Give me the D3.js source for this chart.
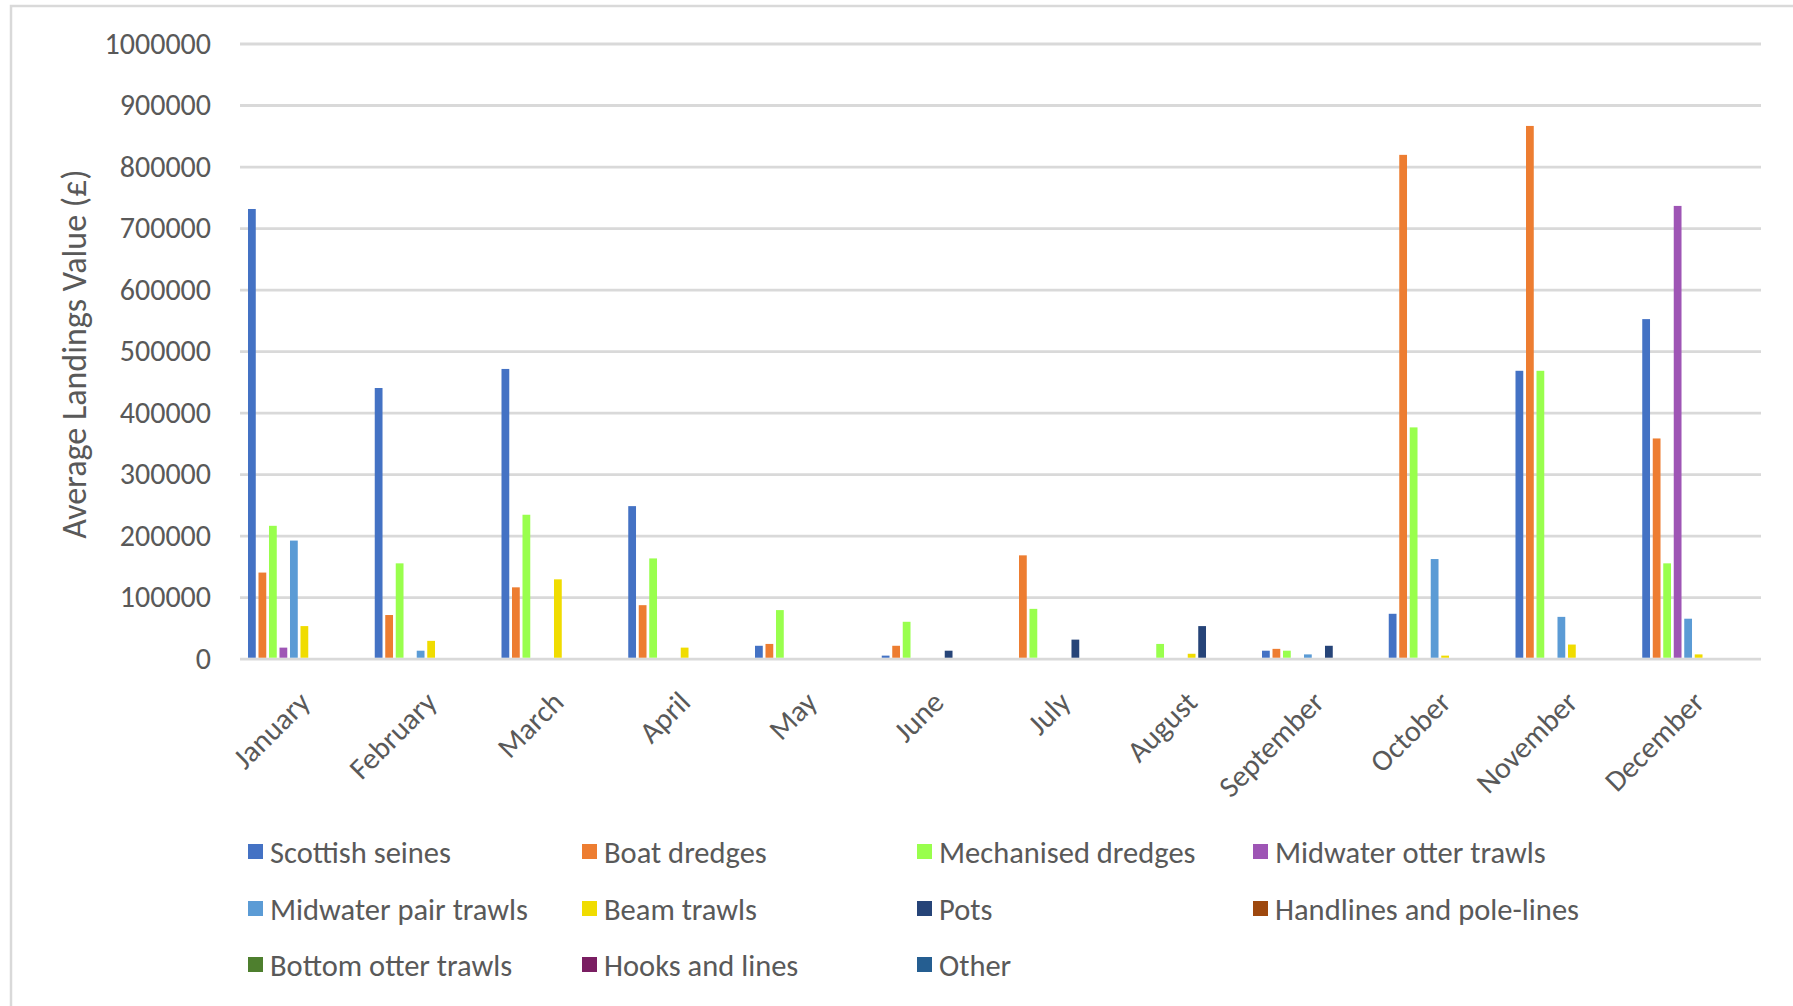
<!DOCTYPE html>
<html>
<head>
<meta charset="utf-8">
<script src="https://cdn.jsdelivr.net/npm/d3@7"></script>
<style>
  html, body { margin: 0; padding: 0; background: #fff; }
  svg { display: block; font-family: Carlito, Calibri, Lato, sans-serif; }
</style>
</head>
<body>
<svg id="chart"></svg>
<script>
  // Month categories and series
  const months = ["January", "February", "March", "April", "May", "June",
    "July", "August", "September", "October", "November", "December"];

  const seriesNames = ["Scottish seines", "Boat dredges", "Mechanised dredges",
    "Midwater otter trawls", "Midwater pair trawls", "Beam trawls", "Pots",
    "Handlines and pole-lines", "Bottom otter trawls", "Hooks and lines", "Other"];

  const seriesColors = ["#4472c4", "#ed7d31", "#99ff4d", "#9e55b5", "#5b9bd5",
    "#f0dc00", "#264478", "#9e480e", "#4e7f2e", "#7a1e62", "#255e91"];

  // Average landings value (£) per month, one array per gear type
  const scottishSeines     = [731000, 440000, 471000, 248000, 21000, 5000, 0, 0, 13000, 73000, 468000, 552000];
  const boatDredges        = [140000, 71000, 116000, 87000, 24000, 21000, 168000, 0, 16000, 819000, 866000, 358000];
  const mechanisedDredges  = [216000, 155000, 234000, 163000, 79000, 60000, 81000, 24000, 13000, 376000, 468000, 155000];
  const midwaterOtter      = [18000, 0, 0, 0, 0, 0, 0, 0, 0, 0, 0, 736000];
  const midwaterPair       = [192000, 13000, 0, 0, 0, 0, 0, 0, 7000, 162000, 68000, 65000];
  const beamTrawls         = [53000, 29000, 129000, 18000, 0, 0, 0, 8000, 0, 5000, 23000, 7000];
  const pots               = [0, 0, 0, 0, 0, 13000, 31000, 53000, 21000, 0, 0, 0];
  const handlines          = [0, 0, 0, 0, 0, 0, 0, 0, 0, 0, 0, 0];
  const bottomOtter        = [0, 0, 0, 0, 0, 0, 0, 0, 0, 0, 0, 0];
  const hooksAndLines      = [0, 0, 0, 0, 0, 0, 0, 0, 0, 0, 0, 0];
  const other              = [0, 0, 0, 0, 0, 0, 0, 0, 0, 0, 0, 0];

  const seriesValues = [scottishSeines, boatDredges, mechanisedDredges, midwaterOtter,
    midwaterPair, beamTrawls, pots, handlines, bottomOtter, hooksAndLines, other];

  const yTicks = [0, 100000, 200000, 300000, 400000, 500000, 600000, 700000, 800000, 900000, 1000000];
  const yTitle = "Average Landings Value (£)";

  const textColor = "#595959";
  const gridColor = "#d9d9d9";

  const W = 1793, H = 1006;
  const margin = { top: 43.5, bottom: 347.3, left: 240, right: 32 };
  const width = W - margin.left - margin.right;
  const height = H - margin.top - margin.bottom;

  const svg = d3.select("#chart").attr("width", W).attr("height", H);

  // outer chart border
  svg.append("rect")
    .attr("x", 11).attr("y", 6)
    .attr("width", W + 20).attr("height", H + 20)
    .attr("fill", "none")
    .attr("stroke", gridColor)
    .attr("stroke-width", 2.5);

  const g = svg.append("g").attr("transform", `translate(${margin.left},${margin.top})`);

  // scales
  const x0 = d3.scaleBand().domain(months).range([0, width]);
  const x1 = d3.scaleBand().domain(seriesNames)
    .range([8, x0.bandwidth() - 6])
    .paddingInner(0.26);
  const y = d3.scaleLinear().domain([0, 1000000]).range([height, 0]);

  // y axis with gridlines
  const g_yaxis = g.append("g").attr("class", "y axis")
    .call(d3.axisLeft(y).tickValues(yTicks).tickSize(-width).tickPadding(29).tickFormat(d3.format("d")));
  g_yaxis.select(".domain").remove();
  g_yaxis.selectAll("line").attr("stroke", gridColor).attr("stroke-width", 2.8);
  g_yaxis.selectAll("text")
    .attr("fill", textColor)
    .attr("font-size", 30)
    .attr("font-family", "Carlito, Calibri, Lato, sans-serif");

  // bars
  const data = months.map((m, i) => ({
    month: m,
    values: seriesNames.map((s, j) => ({ name: s, value: seriesValues[j][i], color: seriesColors[j] }))
  }));

  const groups = g.selectAll("g.month")
    .data(data)
    .join("g")
    .attr("class", "month")
    .attr("transform", (d) => `translate(${x0(d.month)},0)`);

  groups.selectAll("rect")
    .data((d) => d.values.filter((v) => v.value > 0))
    .join("rect")
    .attr("x", (d) => x1(d.name))
    .attr("width", x1.bandwidth())
    .attr("y", (d) => y(d.value))
    .attr("height", (d) => y(0) - y(d.value) - 1)
    .attr("fill", (d) => d.color);

  // x axis labels (rotated)
  const g_xaxis = g.append("g").attr("class", "x axis")
    .attr("transform", `translate(0,${height})`)
    .call(d3.axisBottom(x0).tickSize(0).tickPadding(0));
  g_xaxis.select(".domain").remove();
  g_xaxis.selectAll("text")
    .attr("fill", textColor)
    .attr("font-size", 30)
    .attr("font-family", "Carlito, Calibri, Lato, sans-serif")
    .attr("text-anchor", "end")
    .attr("y", 0)
    .attr("dy", "0.35em")
    .attr("transform", "translate(1,38) rotate(-45)");

  // y axis title
  svg.append("text")
    .attr("transform", `translate(74,${margin.top + height / 2 + 3}) rotate(-90)`)
    .attr("text-anchor", "middle")
    .attr("dy", "0.35em")
    .attr("fill", textColor)
    .attr("font-size", 34)
    .text(yTitle);

  // legend
  const legendCols = [248, 582, 917, 1253];
  const legendRows = [852, 909, 965];

  const legend = svg.append("g").attr("class", "legend")
    .selectAll("g")
    .data(seriesNames)
    .join("g")
    .attr("transform", (d, i) => `translate(${legendCols[i % 4]},${legendRows[Math.floor(i / 4)]})`);

  legend.append("rect")
    .attr("x", 0).attr("y", -8)
    .attr("width", 15).attr("height", 15)
    .attr("fill", (d, i) => seriesColors[i]);

  legend.append("text")
    .attr("x", 22)
    .attr("dy", "0.35em")
    .attr("fill", textColor)
    .attr("font-size", 30.5)
    .text((d) => d);
</script>
</body>
</html>
